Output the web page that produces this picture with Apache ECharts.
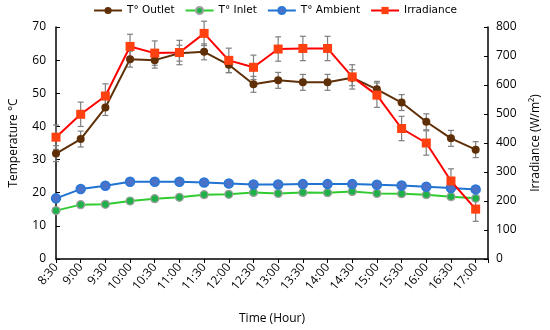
<!DOCTYPE html>
<html><head><meta charset="utf-8">
<script src="https://cdn.jsdelivr.net/npm/echarts@6/dist/echarts.min.js"></script>
<style>html,body{margin:0;padding:0;background:#fff}#c{width:550px;height:330px}</style>
</head><body><div id="c"></div>
<script>
var categories = ['8:30','9:00','9:30','10:00','10:30','11:00','11:30','12:00','12:30','13:00','13:30','14:00','14:30','15:00','15:30','16:00','16:30','17:00'];
var outlet = [31.8,36.2,45.7,60.3,60.0,62.1,62.5,58.6,52.7,53.9,53.3,53.3,54.7,51.2,47.2,41.4,36.4,33.0];
var outletErr = [2.4,2.4,2.4,2.4,2.4,2.4,2.4,2.4,2.4,2.4,2.4,2.4,2.4,2.4,2.4,2.4,2.4,2.4];
var inlet = [14.6,16.4,16.5,17.5,18.2,18.6,19.4,19.5,20.1,19.8,20.1,20.0,20.4,19.8,19.7,19.4,18.8,18.3];
var ambient = [18.3,21.1,22.1,23.3,23.3,23.3,23.1,22.8,22.5,22.5,22.6,22.6,22.6,22.4,22.2,21.8,21.4,21.0];
var irradiance = [420,499,562,733,710,712,778,685,661,724,726,726,628,565,450,400,269,172];
var irrErr = [42,42,42,42,42,42,42,42,42,42,42,42,42,42,42,42,42,42];

function pairs(arr){ return arr.map(function(v,i){ return [i,v]; }); }
function errData(arr,err){ return arr.map(function(v,i){ return [i, v-err[i], v+err[i]]; }); }
function errRender(params, api){
  var x = api.value(0);
  var lo = api.coord([x, api.value(1)]);
  var hi = api.coord([x, api.value(2)]);
  var w = 3;
  var st = {stroke:'#7f7f7f', lineWidth:1.2};
  return {type:'group', children:[
    {type:'line', shape:{x1:lo[0],y1:lo[1],x2:hi[0],y2:hi[1]}, style:st},
    {type:'line', shape:{x1:lo[0]-w,y1:lo[1],x2:lo[0]+w,y2:lo[1]}, style:st},
    {type:'line', shape:{x1:hi[0]-w,y1:hi[1],x2:hi[0]+w,y2:hi[1]}, style:st}
  ]};
}
var font = 'Open Sans';
var chart = echarts.init(document.getElementById('c'));
chart.setOption({
  animation:false,
  textStyle:{fontFamily:font},
  legend:{top:0, left:'center', itemWidth:28, itemHeight:9, itemGap:10,
    textStyle:{fontFamily:'DejaVu Sans', fontSize:10.5, color:'#000'},
    data:['T° Outlet','T° Inlet','T° Ambient','Irradiance']},
  grid:{left:53, right:59, top:27, bottom:69},
  xAxis:{type:'value', min:0, max:17.5, interval:1,
    name:'Time (Hour)', nameLocation:'middle', nameGap:54,
    nameTextStyle:{fontSize:12, color:'#000', fontFamily:font},
    axisLine:{lineStyle:{color:'#000', width:1.5}},
    axisTick:{show:true, length:4, lineStyle:{color:'#000'}},
    splitLine:{show:false},
    axisLabel:{rotate:50, fontSize:12, color:'#000', margin:6,
      formatter:function(v){ return (Math.round(v)===v && categories[v]) ? categories[v] : ''; }}
  },
  yAxis:[
    {type:'value', min:0, max:70, interval:10, name:'Temperature °C',
     nameLocation:'middle', nameGap:36, nameTextStyle:{fontSize:12,color:'#000'},
     axisLine:{show:true, lineStyle:{color:'#000', width:1.5}},
     axisTick:{show:true, inside:true, length:4, lineStyle:{color:'#000'}},
     splitLine:{show:false},
     axisLabel:{fontSize:12, color:'#000', margin:10}},
    {type:'value', min:0, max:800, interval:100, name:'Irradiance (W/m²)',
     nameLocation:'middle', nameGap:42, nameRotate:90, nameTextStyle:{fontSize:12,color:'#000'},
     axisLine:{show:true, lineStyle:{color:'#000', width:1.5}},
     axisTick:{show:true, inside:true, length:4, lineStyle:{color:'#000'}},
     splitLine:{show:false},
     axisLabel:{fontSize:12, color:'#000', margin:8}}
  ],
  series:[
    {type:'custom', yAxisIndex:0, renderItem:errRender, data:errData(outlet,outletErr), z:3, silent:true},
    {type:'custom', yAxisIndex:1, renderItem:errRender, data:errData(irradiance,irrErr), z:3, silent:true},
    {name:'T° Outlet', type:'line', yAxisIndex:0, data:pairs(outlet), symbol:'circle', symbolSize:8,
     lineStyle:{color:'#5f3008', width:2}, itemStyle:{color:'#5f3008'}, z:4},
    {name:'T° Inlet', type:'line', yAxisIndex:0, data:pairs(inlet), symbol:'circle', symbolSize:8,
     lineStyle:{color:'#2fcb2f', width:2}, itemStyle:{color:'#1fb04a', borderColor:'#a0a0a0', borderWidth:1.2}, z:4},
    {name:'T° Ambient', type:'line', yAxisIndex:0, data:pairs(ambient), symbol:'circle', symbolSize:9,
     lineStyle:{color:'#1f73d1', width:2}, itemStyle:{color:'#4a72c8', borderColor:'#2878d8', borderWidth:1.5}, z:4},
    {name:'Irradiance', type:'line', yAxisIndex:1, data:pairs(irradiance), symbol:'rect', symbolSize:9,
     lineStyle:{color:'#ff0000', width:2}, itemStyle:{color:'#ff4010'}, z:5}
  ]
});
</script></body></html>
